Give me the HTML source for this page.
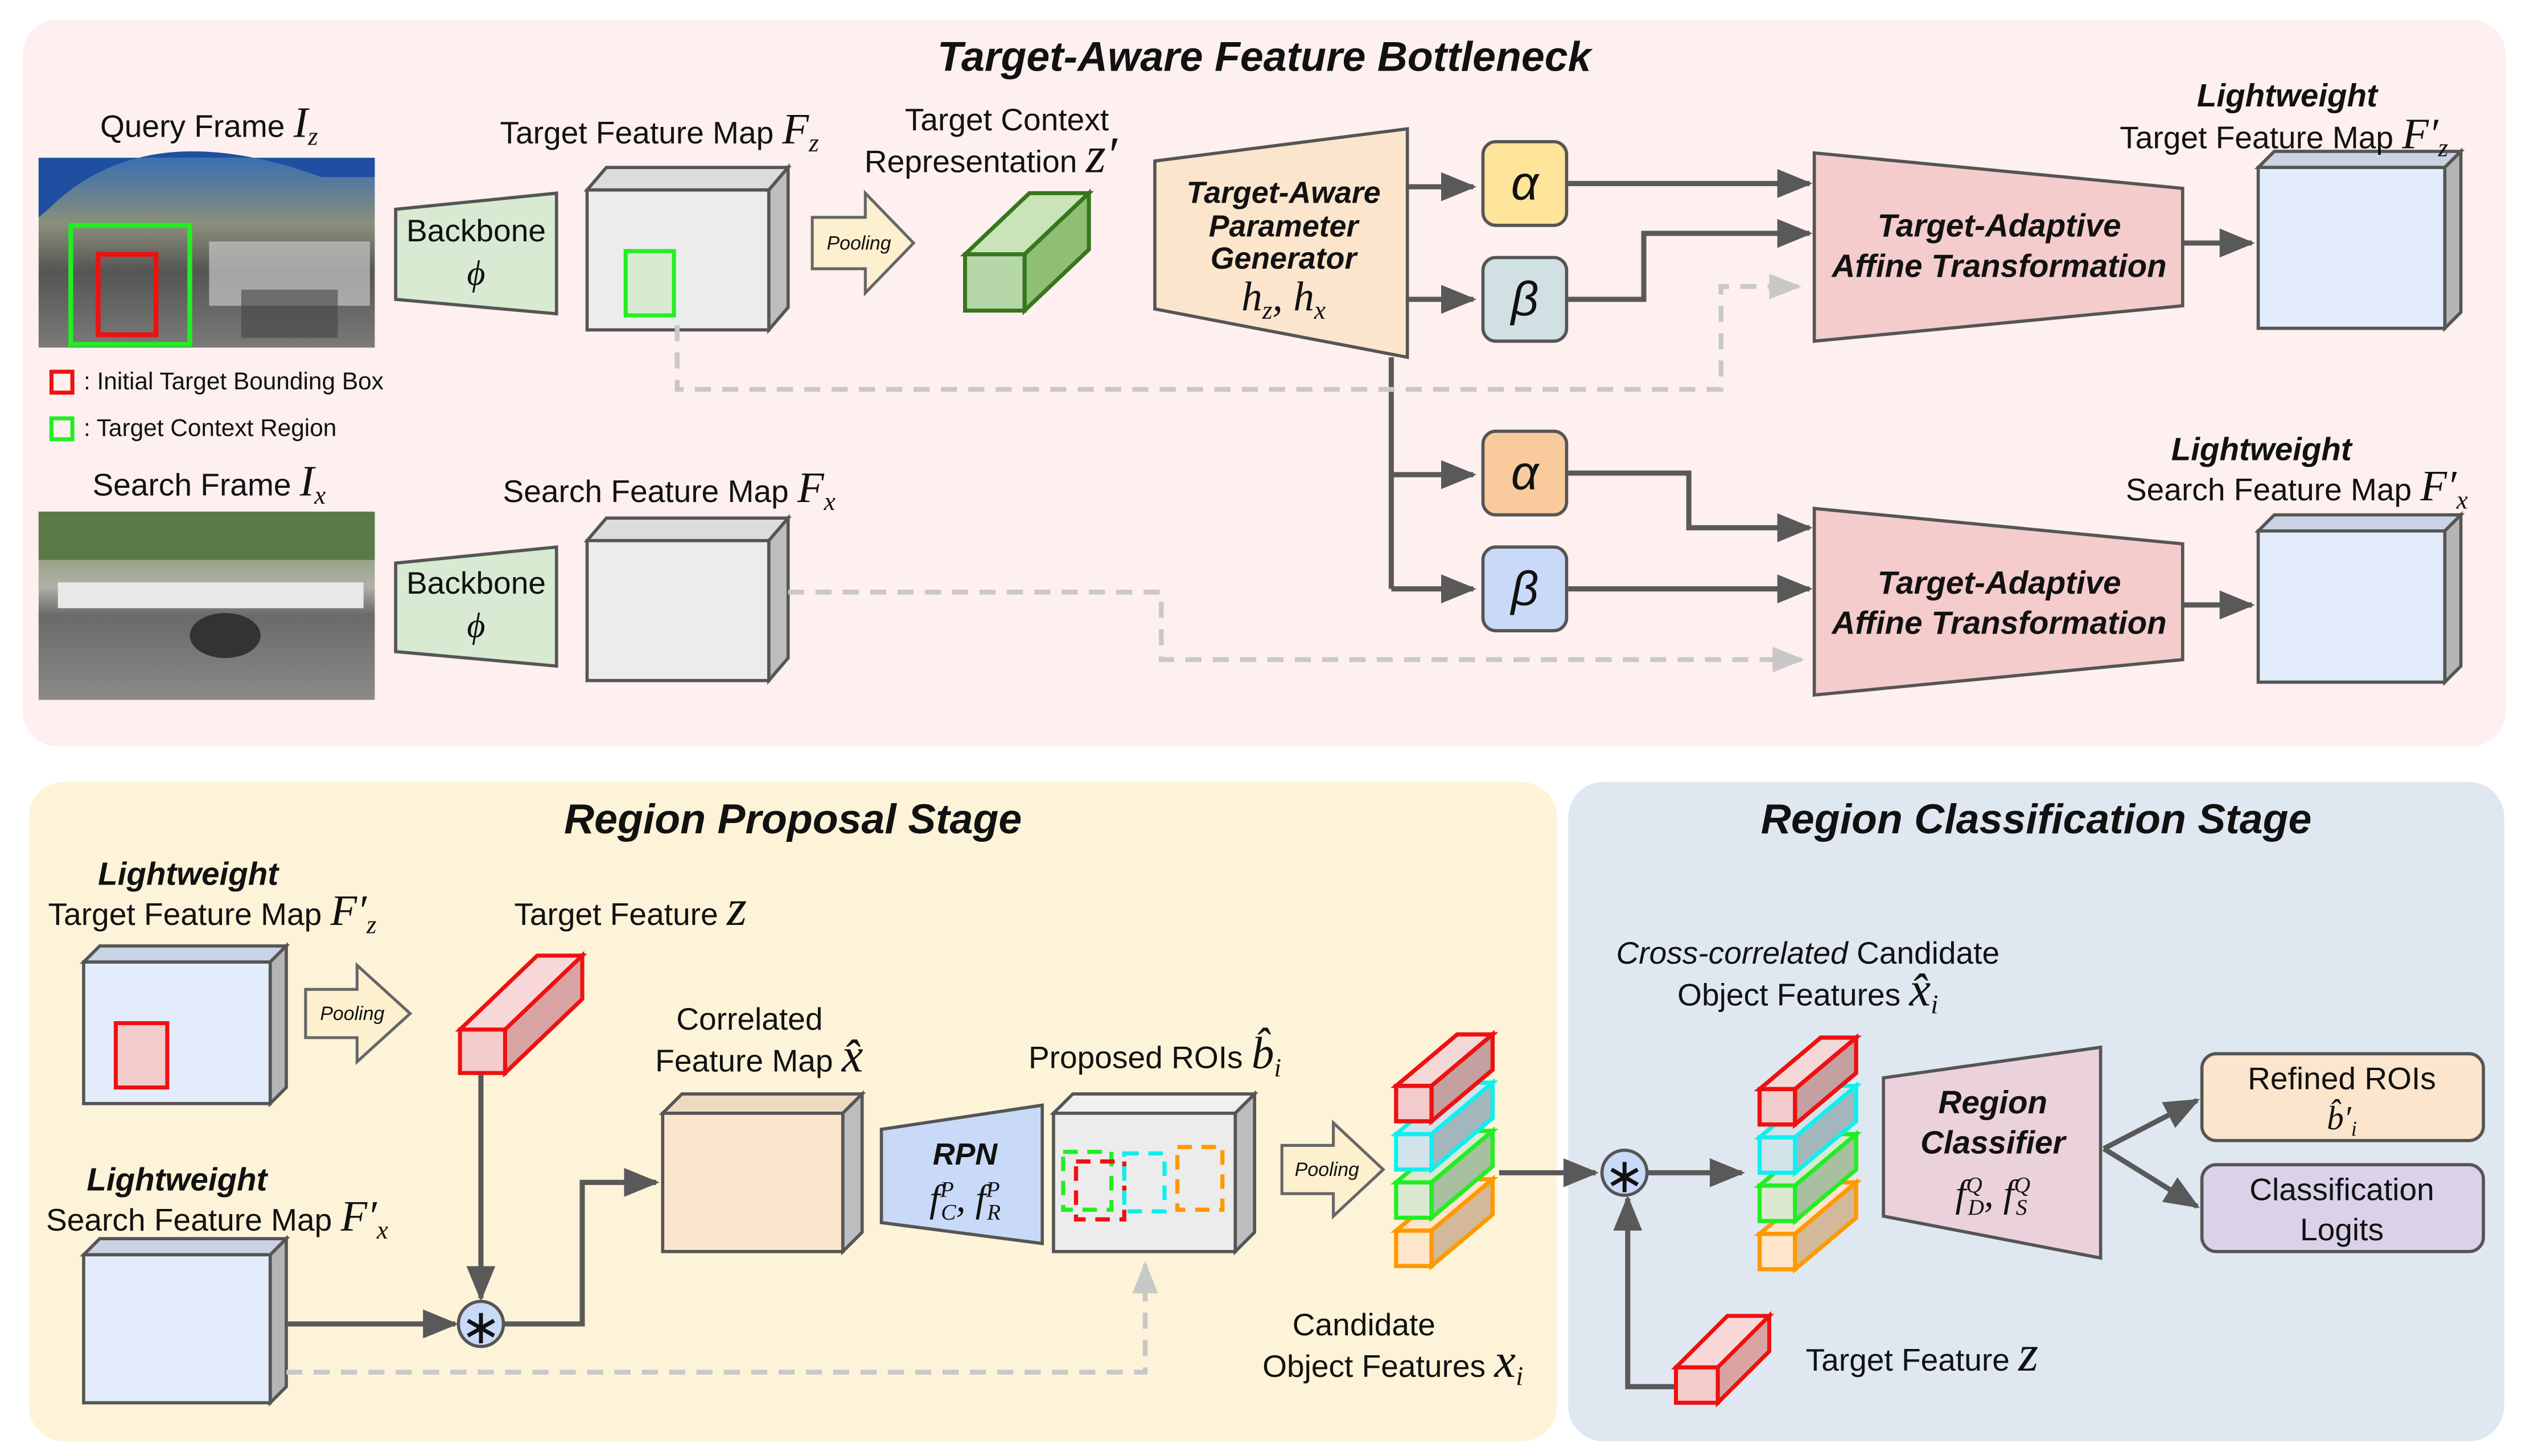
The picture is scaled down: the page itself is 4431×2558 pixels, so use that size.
<!DOCTYPE html>
<html><head><meta charset="utf-8"><style>
html,body{margin:0;padding:0;background:#fff;}
svg{display:block;}
text{font-family:"Liberation Sans",sans-serif;fill:#111;}
.t{font-size:19.5px;}
.bi{font-weight:bold;font-style:italic;}
.m{font-family:"Liberation Serif",serif;font-style:italic;}
.ttl{font-size:26px;font-weight:bold;font-style:italic;}
.ln{stroke:#595959;stroke-width:3.2;fill:none;}
.ds{stroke:#c8c8c8;stroke-width:3;fill:none;stroke-dasharray:10 7;}
.sh{stroke:#555;stroke-width:2;}
</style></head><body>
<svg width="4431" height="2558" viewBox="0 0 1568 905" xmlns="http://www.w3.org/2000/svg">
<defs>
<marker id="ah" markerWidth="22" markerHeight="18" refX="20" refY="9" orient="auto" markerUnits="userSpaceOnUse"><path d="M0,0 L22,9 L0,18z" fill="#595959"/></marker>
<marker id="ag" markerWidth="20" markerHeight="16" refX="18" refY="8" orient="auto" markerUnits="userSpaceOnUse"><path d="M0,0 L20,8 L0,16z" fill="#c8c8c8"/></marker>
<linearGradient id="p1" x1="0" y1="0" x2="0" y2="1"><stop offset="0" stop-color="#3a6fb0"/><stop offset="0.35" stop-color="#8a8f7a"/><stop offset="0.6" stop-color="#555"/><stop offset="1" stop-color="#7a7a78"/></linearGradient>
<linearGradient id="p2" x1="0" y1="0" x2="0" y2="1"><stop offset="0" stop-color="#6f8a50"/><stop offset="0.4" stop-color="#b0b0a8"/><stop offset="0.55" stop-color="#6a6a6a"/><stop offset="1" stop-color="#8a8a88"/></linearGradient>
</defs>

<rect x="14" y="12" width="1544" height="452" rx="22" fill="#fdf0ef"/>
<rect x="18" y="486" width="950" height="410" rx="22" fill="#fdf3d8"/>
<rect x="975" y="486" width="582" height="410" rx="22" fill="#dfe8f1"/>
<text x="786" y="44" class="ttl" text-anchor="middle">Target-Aware Feature Bottleneck</text>
<text x="493" y="518" class="ttl" text-anchor="middle">Region Proposal Stage</text>
<text x="1266" y="518" class="ttl" text-anchor="middle">Region Classification Stage</text>

<rect x="24" y="98" width="209" height="118" fill="url(#p1)"/>
<path d="M30,130 Q90,70 200,110 L233,110 L233,98 L24,98 L24,135z" fill="#1f4fa0"/>
<rect x="130" y="150" width="100" height="40" fill="#c8c8c8" opacity=".7"/>
<rect x="150" y="180" width="60" height="30" fill="#444" opacity=".6"/>
<rect x="44" y="140" width="74" height="74" fill="none" stroke="#22ee22" stroke-width="3"/>
<rect x="61" y="158" width="36" height="50" fill="none" stroke="#ee1111" stroke-width="3"/>
<rect x="24" y="318" width="209" height="117" fill="url(#p2)"/>
<rect x="24" y="318" width="209" height="30" fill="#5a7a48"/>
<rect x="36" y="362" width="190" height="16" fill="#e8e8e8"/>
<ellipse cx="140" cy="395" rx="22" ry="14" fill="#333"/>
<text x="130" y="85" class="t" text-anchor="middle">Query Frame <tspan class="m" font-size="27">I</tspan><tspan class="m" font-size="16" dy="5">z</tspan></text>
<text x="130" y="308" class="t" text-anchor="middle">Search Frame <tspan class="m" font-size="27">I</tspan><tspan class="m" font-size="16" dy="5">x</tspan></text>
<rect x="32" y="231" width="13" height="13" fill="none" stroke="#ee1111" stroke-width="2.5"/>
<text x="52" y="242" font-size="15">: Initial Target Bounding Box</text>
<rect x="32" y="260" width="13" height="13" fill="none" stroke="#22ee22" stroke-width="2.5"/>
<text x="52" y="271" font-size="15">: Target Context Region</text>

<polygon points="246,130 346,120 346,195 246,186" fill="#d9ead3" class="sh"/>
<text x="296" y="150" class="t" text-anchor="middle" font-size="17">Backbone</text>
<text x="296" y="177" class="m" text-anchor="middle" font-size="22">ϕ</text>
<polygon points="246,350 346,340 346,414 246,405" fill="#d9ead3" class="sh"/>
<text x="296" y="369" class="t" text-anchor="middle" font-size="17">Backbone</text>
<text x="296" y="396" class="m" text-anchor="middle" font-size="22">ϕ</text>

<g class="sh">
<polygon points="365,118 377,104 490,104 478,118" fill="#dcdcdc"/>
<polygon points="478,118 490,104 490,191 478,205" fill="#bdbdbd"/>
<rect x="365" y="118" width="113" height="87" fill="#ececec"/>
<polygon points="365,336 377,322 490,322 478,336" fill="#dcdcdc"/>
<polygon points="478,336 490,322 490,409 478,423" fill="#bdbdbd"/>
<rect x="365" y="336" width="113" height="87" fill="#ececec"/>
</g>
<rect x="389" y="156" width="30" height="40" fill="#d9ead3" stroke="#22ee22" stroke-width="2.5"/>
<text x="410" y="89" class="t" text-anchor="middle">Target Feature Map <tspan class="m" font-size="27">F</tspan><tspan class="m" font-size="16" dy="5">z</tspan></text>
<text x="416" y="312" class="t" text-anchor="middle">Search Feature Map <tspan class="m" font-size="27">F</tspan><tspan class="m" font-size="16" dy="5">x</tspan></text>

<polygon points="505,135 538,135 538,120 568,151 538,182 538,167 505,167" fill="#fdf0cf" stroke="#666" stroke-width="1.8"/>
<text x="534" y="155" font-size="12" font-style="italic" text-anchor="middle">Pooling</text>

<g stroke="#38761d" stroke-width="2.5">
<polygon points="600,158 640,120 677,120 637,158" fill="#c9e4b8"/>
<polygon points="637,158 677,120 677,155 637,193" fill="#8fbf73"/>
<rect x="600" y="158" width="37" height="35" fill="#b6d7a8"/>
</g>
<text x="626" y="81" class="t" text-anchor="middle">Target Context</text>
<text x="616" y="107" class="t" text-anchor="middle">Representation <tspan class="m" font-size="32">z′</tspan></text>

<polygon points="718,100 875,80 875,222 718,192" fill="#fce5cd" class="sh"/>
<text x="798" y="126" class="bi" font-size="19" text-anchor="middle">Target-Aware</text>
<text x="798" y="147" class="bi" font-size="19" text-anchor="middle">Parameter</text>
<text x="798" y="167" class="bi" font-size="19" text-anchor="middle">Generator</text>
<text x="798" y="193" class="m" font-size="26" text-anchor="middle">h<tspan font-size="16" dy="5">z</tspan><tspan dy="-5">, h</tspan><tspan font-size="16" dy="5">x</tspan></text>

<g class="sh">
<rect x="922" y="88" width="52" height="52" rx="8" fill="#ffe599"/>
<rect x="922" y="160" width="52" height="52" rx="8" fill="#d0e0e3"/>
<rect x="922" y="268" width="52" height="52" rx="8" fill="#f9cb9c"/>
<rect x="922" y="340" width="52" height="52" rx="8" fill="#c9daf8"/>
</g>
<g class="m" font-size="30" text-anchor="middle">
<text x="948" y="124">α</text><text x="948" y="196">β</text>
<text x="948" y="304">α</text><text x="948" y="376">β</text>
</g>

<polygon points="1128,95 1357,117 1357,190 1128,212" fill="#f4cccc" class="sh"/>
<text x="1243" y="147" class="bi" font-size="20" text-anchor="middle">Target-Adaptive</text>
<text x="1243" y="172" class="bi" font-size="20" text-anchor="middle">Affine Transformation</text>
<polygon points="1128,316 1357,338 1357,410 1128,432" fill="#f4cccc" class="sh"/>
<text x="1243" y="369" class="bi" font-size="20" text-anchor="middle">Target-Adaptive</text>
<text x="1243" y="394" class="bi" font-size="20" text-anchor="middle">Affine Transformation</text>

<g class="sh">
<polygon points="1404,104 1414,94 1530,94 1520,104" fill="#c9d3e3"/>
<polygon points="1520,104 1530,94 1530,194 1520,204" fill="#b5b5b5"/>
<rect x="1404" y="104" width="116" height="100" fill="#e3ecfb"/>
<polygon points="1404,330 1414,320 1530,320 1520,330" fill="#c9d3e3"/>
<polygon points="1520,330 1530,320 1530,414 1520,424" fill="#b5b5b5"/>
<rect x="1404" y="330" width="116" height="94" fill="#e3ecfb"/>
</g>
<text x="1422" y="66" class="bi" font-size="20" text-anchor="middle">Lightweight</text>
<text x="1420" y="92" class="t" text-anchor="middle">Target Feature Map <tspan class="m" font-size="27">F′</tspan><tspan class="m" font-size="16" dy="5">z</tspan></text>
<text x="1406" y="286" class="bi" font-size="20" text-anchor="middle">Lightweight</text>
<text x="1428" y="311" class="t" text-anchor="middle">Search Feature Map <tspan class="m" font-size="27">F′</tspan><tspan class="m" font-size="16" dy="5">x</tspan></text>

<path class="ln" d="M875,116 L916,116" marker-end="url(#ah)"/>
<path class="ln" d="M875,186 L916,186" marker-end="url(#ah)"/>
<path class="ln" d="M865,222 L865,366"/>
<path class="ln" d="M865,295 L916,295" marker-end="url(#ah)"/>
<path class="ln" d="M865,366 L916,366" marker-end="url(#ah)"/>
<path class="ln" d="M975,114 L1125,114" marker-end="url(#ah)"/>
<path class="ln" d="M975,186 L1022,186 L1022,145 L1125,145" marker-end="url(#ah)"/>
<path class="ln" d="M975,294 L1050,294 L1050,328 L1125,328" marker-end="url(#ah)"/>
<path class="ln" d="M975,366 L1125,366" marker-end="url(#ah)"/>
<path class="ln" d="M1357,151 L1400,151" marker-end="url(#ah)"/>
<path class="ln" d="M1357,376 L1400,376" marker-end="url(#ah)"/>
<path class="ds" d="M421,202 L421,242 L1070,242 L1070,178 L1118,178" marker-end="url(#ag)"/>
<path class="ds" d="M490,368 L722,368 L722,410 L1120,410" marker-end="url(#ag)"/>

<text x="117" y="550" class="bi" font-size="20" text-anchor="middle">Lightweight</text>
<text x="132" y="575" class="t" text-anchor="middle">Target Feature Map <tspan class="m" font-size="27">F′</tspan><tspan class="m" font-size="16" dy="5">z</tspan></text>
<text x="110" y="740" class="bi" font-size="20" text-anchor="middle">Lightweight</text>
<text x="135" y="765" class="t" text-anchor="middle">Search Feature Map <tspan class="m" font-size="27">F′</tspan><tspan class="m" font-size="16" dy="5">x</tspan></text>
<g class="sh">
<polygon points="52,598 62,588 178,588 168,598" fill="#c9d3e3"/>
<polygon points="168,598 178,588 178,676 168,686" fill="#b5b5b5"/>
<rect x="52" y="598" width="116" height="88" fill="#e3ecfb"/>
<polygon points="52,780 62,770 178,770 168,780" fill="#c9d3e3"/>
<polygon points="168,780 178,770 178,862 168,872" fill="#b5b5b5"/>
<rect x="52" y="780" width="116" height="92" fill="#e3ecfb"/>
</g>
<rect x="72" y="636" width="32" height="40" fill="#f4cccc" stroke="#ee1111" stroke-width="2.5"/>
<polygon points="190,615 222,615 222,600 255,630 222,660 222,645 190,645" fill="#fdf0cf" stroke="#666" stroke-width="1.8"/>
<text x="219" y="634" font-size="12" font-style="italic" text-anchor="middle">Pooling</text>
<g stroke="#ee1111" stroke-width="2.5">
<polygon points="286,640 334,594 362,594 314,640" fill="#f8d8d8"/>
<polygon points="314,640 362,594 362,621 314,667" fill="#d9a3a3"/>
<rect x="286" y="640" width="28" height="27" fill="#f4cccc"/>
</g>
<text x="392" y="575" class="t" text-anchor="middle">Target Feature <tspan class="m" font-size="32">z</tspan></text>

<circle cx="299" cy="823" r="14" fill="#c9daf8" stroke="#555" stroke-width="2"/>
<text x="299" y="835" font-size="30" text-anchor="middle" font-family="DejaVu Sans">∗</text>
<path class="ln" d="M178,823 L283,823" marker-end="url(#ah)"/>
<path class="ln" d="M299,668 L299,807" marker-end="url(#ah)"/>
<path class="ln" d="M313,823 L362,823 L362,735 L408,735" marker-end="url(#ah)"/>

<g class="sh">
<polygon points="412,692 424,680 536,680 524,692" fill="#eedac3"/>
<polygon points="524,692 536,680 536,766 524,778" fill="#bdbdbd"/>
<rect x="412" y="692" width="112" height="86" fill="#fce5cd"/>
</g>
<text x="466" y="640" class="t" text-anchor="middle">Correlated</text>
<text x="472" y="666" class="t" text-anchor="middle">Feature Map <tspan class="m" font-size="30">x̂</tspan></text>

<polygon points="548,702 648,687 648,773 548,760" fill="#c9daf8" class="sh"/>
<text x="600" y="724" class="bi" font-size="19" text-anchor="middle">RPN</text>
<text x="600" y="753" class="m" font-size="24" text-anchor="middle">f<tspan font-size="14" dy="-9">P</tspan><tspan font-size="14" dx="-8" dy="14">C</tspan><tspan dy="-5">, f</tspan><tspan font-size="14" dy="-9">P</tspan><tspan font-size="14" dx="-8" dy="14">R</tspan></text>

<g class="sh">
<polygon points="655,692 667,680 780,680 768,692" fill="#f0f0f0"/>
<polygon points="768,692 780,680 780,766 768,778" fill="#bdbdbd"/>
<rect x="655" y="692" width="113" height="86" fill="#ececec"/>
</g>
<g fill="none" stroke-width="2.6" stroke-dasharray="9 6">
<rect x="661" y="716" width="30" height="36" stroke="#22ee22"/>
<rect x="669" y="722" width="30" height="36" stroke="#ee1111"/>
<rect x="699" y="717" width="25" height="36" stroke="#11eeee"/>
<rect x="732" y="713" width="28" height="39" stroke="#ff9900"/>
</g>
<text x="718" y="664" class="t" text-anchor="middle">Proposed ROIs <tspan class="m" font-size="28">b̂</tspan><tspan class="m" font-size="16" dy="5">i</tspan></text>

<polygon points="797,712 829,712 829,698 860,727 829,756 829,742 797,742" fill="#fdf0cf" stroke="#666" stroke-width="1.8"/>
<text x="825" y="731" font-size="12" font-style="italic" text-anchor="middle">Pooling</text>

<g stroke-width="2.6">
<g stroke="#ff9900"><polygon points="868,765 906,733 928,733 890,765" fill="#fde6cc"/><polygon points="890,765 928,733 928,755 890,787" fill="#d4b89a"/><rect x="868" y="765" width="22" height="22" fill="#fde6cc"/></g>
<g stroke="#22ee22"><polygon points="868,735 906,703 928,703 890,735" fill="#dbe9d2"/><polygon points="890,735 928,703 928,725 890,757" fill="#a8bfa0"/><rect x="868" y="735" width="22" height="22" fill="#dbe9d2"/></g>
<g stroke="#11eeee"><polygon points="868,705 906,673 928,673 890,705" fill="#d3e3ea"/><polygon points="890,705 928,673 928,695 890,727" fill="#a3b6bb"/><rect x="868" y="705" width="22" height="22" fill="#d3e3ea"/></g>
<g stroke="#ee1111"><polygon points="868,675 906,643 928,643 890,675" fill="#f4d8d8"/><polygon points="890,675 928,643 928,665 890,697" fill="#c4a0a0"/><rect x="868" y="675" width="22" height="22" fill="#f2cccc"/></g>
</g>
<g stroke-width="2.6" transform="translate(226,2)">
<g stroke="#ff9900"><polygon points="868,765 906,733 928,733 890,765" fill="#fde6cc"/><polygon points="890,765 928,733 928,755 890,787" fill="#d4b89a"/><rect x="868" y="765" width="22" height="22" fill="#fde6cc"/></g>
<g stroke="#22ee22"><polygon points="868,735 906,703 928,703 890,735" fill="#dbe9d2"/><polygon points="890,735 928,703 928,725 890,757" fill="#a8bfa0"/><rect x="868" y="735" width="22" height="22" fill="#dbe9d2"/></g>
<g stroke="#11eeee"><polygon points="868,705 906,673 928,673 890,705" fill="#d3e3ea"/><polygon points="890,705 928,673 928,695 890,727" fill="#a3b6bb"/><rect x="868" y="705" width="22" height="22" fill="#d3e3ea"/></g>
<g stroke="#ee1111"><polygon points="868,675 906,643 928,643 890,675" fill="#f4d8d8"/><polygon points="890,675 928,643 928,665 890,697" fill="#c4a0a0"/><rect x="868" y="675" width="22" height="22" fill="#f2cccc"/></g>
</g>
<text x="848" y="830" class="t" text-anchor="middle">Candidate</text>
<text x="866" y="856" class="t" text-anchor="middle">Object Features <tspan class="m" font-size="30">x</tspan><tspan class="m" font-size="17" dy="5">i</tspan></text>

<path class="ds" d="M178,853 L712,853 L712,786" marker-end="url(#ag)"/>
<path class="ln" d="M932,729 L992,729" marker-end="url(#ah)"/>
<circle cx="1010" cy="729" r="14" fill="#c9daf8" stroke="#555" stroke-width="2"/>
<text x="1010" y="741" font-size="30" text-anchor="middle" font-family="DejaVu Sans">∗</text>
<path class="ln" d="M1024,729 L1083,729" marker-end="url(#ah)"/>
<path class="ln" d="M1042,862 L1012,862 L1012,745" marker-end="url(#ah)"/>

<text x="1124" y="599" class="t" text-anchor="middle"><tspan font-style="italic">Cross-correlated</tspan> Candidate</text>
<text x="1124" y="625" class="t" text-anchor="middle">Object Features <tspan class="m" font-size="30">x̂</tspan><tspan class="m" font-size="17" dy="5">i</tspan></text>

<polygon points="1171,670 1306,651 1306,782 1171,756" fill="#ead1dc" class="sh"/>
<text x="1239" y="692" class="bi" font-size="20" text-anchor="middle">Region</text>
<text x="1239" y="717" class="bi" font-size="20" text-anchor="middle">Classifier</text>
<text x="1239" y="750" class="m" font-size="24" text-anchor="middle">f<tspan font-size="14" dy="-9">Q</tspan><tspan font-size="14" dx="-9" dy="14">D</tspan><tspan dy="-5">, f</tspan><tspan font-size="14" dy="-9">Q</tspan><tspan font-size="14" dx="-9" dy="14">S</tspan></text>

<path class="ln" d="M1308,714 L1366,684" marker-end="url(#ah)"/>
<path class="ln" d="M1308,714 L1366,750" marker-end="url(#ah)"/>
<rect x="1369" y="655" width="175" height="54" rx="9" fill="#fce5cd" class="sh"/>
<text x="1456" y="677" class="t" text-anchor="middle">Refined ROIs</text>
<text x="1456" y="702" class="m" font-size="21" text-anchor="middle">b̂′<tspan font-size="13" dy="4">i</tspan></text>
<rect x="1369" y="724" width="175" height="54" rx="9" fill="#d9d2e9" class="sh"/>
<text x="1456" y="746" class="t" text-anchor="middle">Classification</text>
<text x="1456" y="771" class="t" text-anchor="middle">Logits</text>

<g stroke="#ee1111" stroke-width="2.5">
<polygon points="1042,850 1074,818 1100,818 1068,850" fill="#f8d8d8"/>
<polygon points="1068,850 1100,818 1100,840 1068,872" fill="#d9a3a3"/>
<rect x="1042" y="850" width="26" height="22" fill="#f4cccc"/>
</g>
<text x="1195" y="852" class="t" text-anchor="middle">Target Feature <tspan class="m" font-size="32">z</tspan></text>
</svg>
</body></html>
